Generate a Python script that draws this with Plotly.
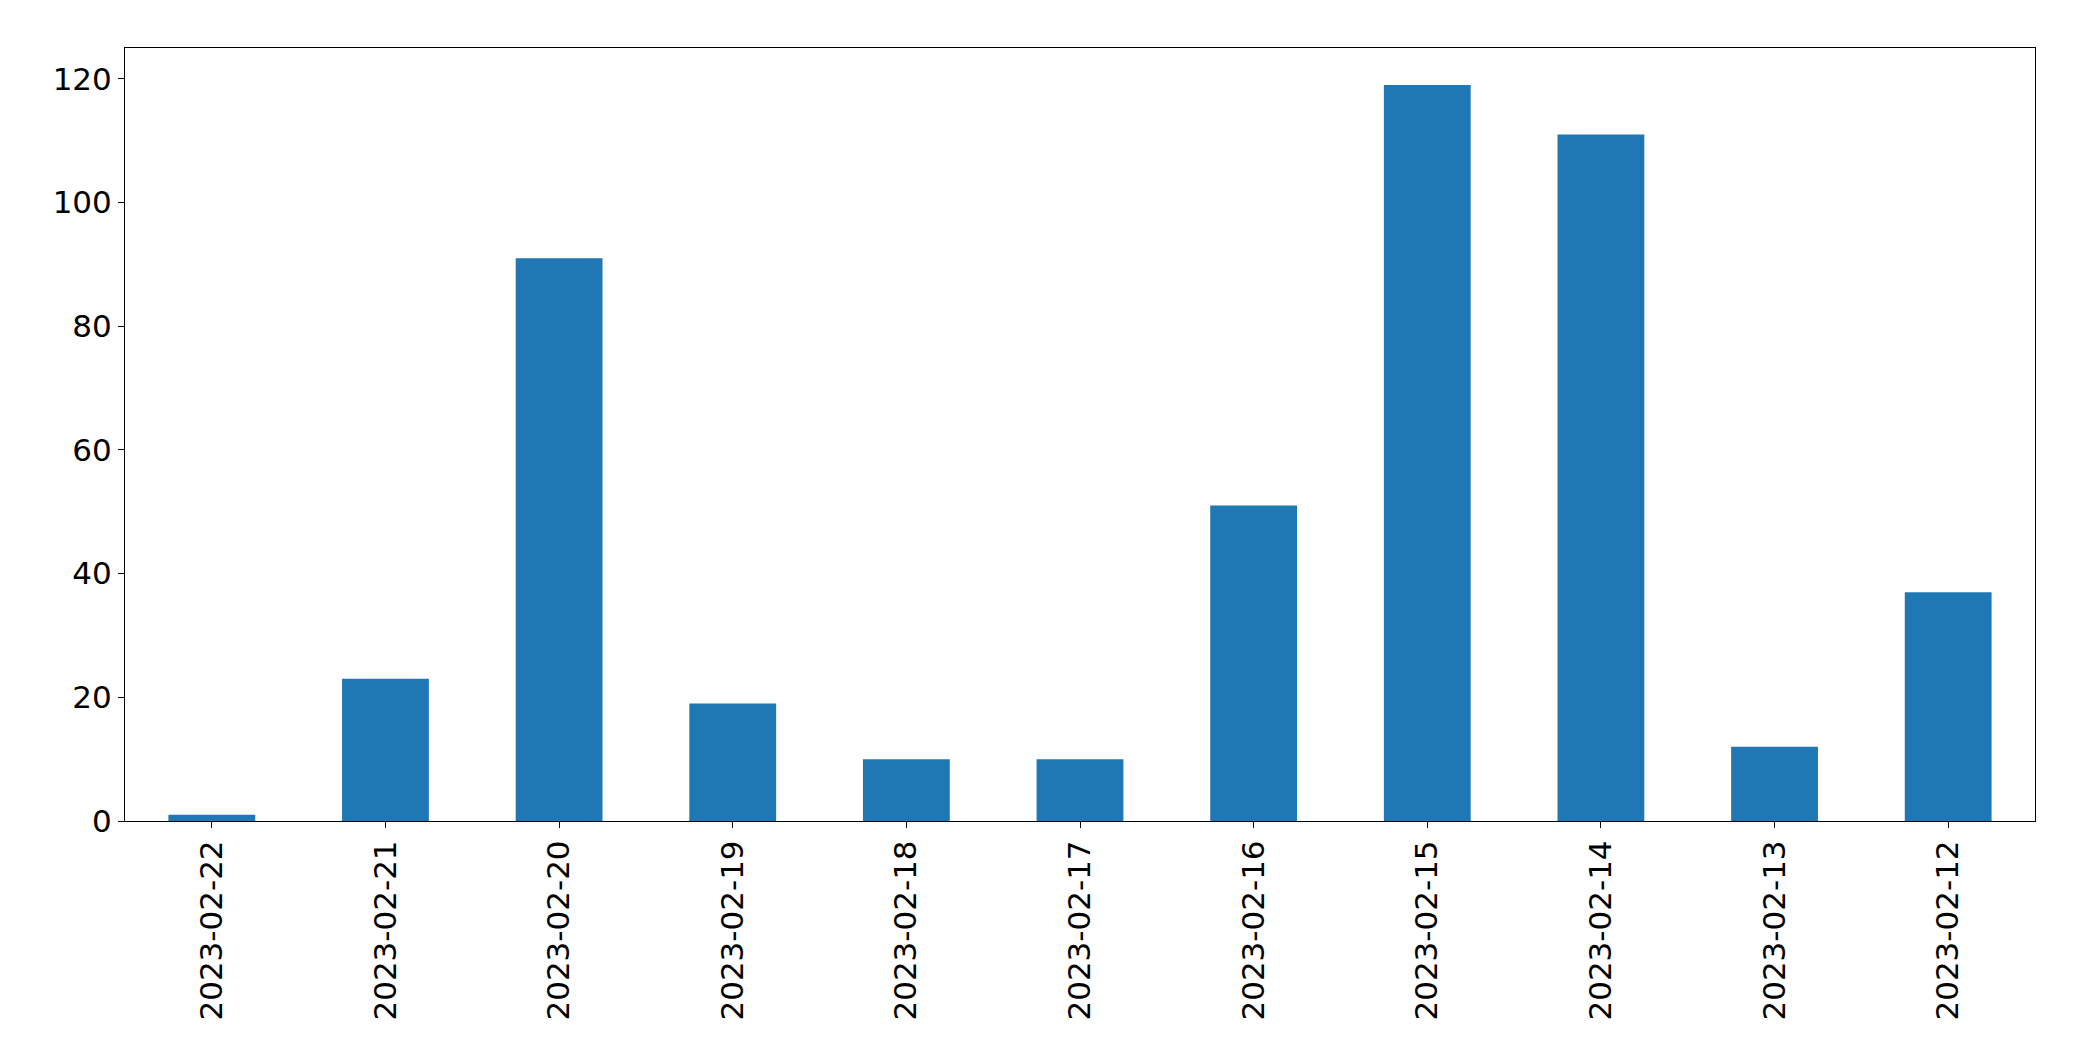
import plotly.graph_objects as go

dates = ["2023-02-22","2023-02-21","2023-02-20","2023-02-19","2023-02-18","2023-02-17",
         "2023-02-16","2023-02-15","2023-02-14","2023-02-13","2023-02-12"]
counts = [1, 23, 91, 19, 10, 10, 51, 119, 111, 12, 37]

fig = go.Figure(go.Bar(x=dates, y=counts, width=0.5, marker_color="#1f77b4", marker_line_width=0))
ax = dict(showline=True, linecolor="black", linewidth=1, mirror=True, showgrid=False,
          ticks="outside", ticklen=6, tickcolor="black", zeroline=False,
          tickfont=dict(family="DejaVu Sans", size=31, color="black"))
fig.update_layout(
    width=2093, height=1061, plot_bgcolor="white", paper_bgcolor="white",
    margin=dict(l=117, r=66, t=40, b=248), showlegend=False,
    xaxis=dict(**ax, type="category", tickangle=-90, range=[-0.5, 10.5]),
    yaxis=dict(**ax, range=[0, 125], tickvals=[0, 20, 40, 60, 80, 100, 120]),
)
fig.write_html("out.html")
